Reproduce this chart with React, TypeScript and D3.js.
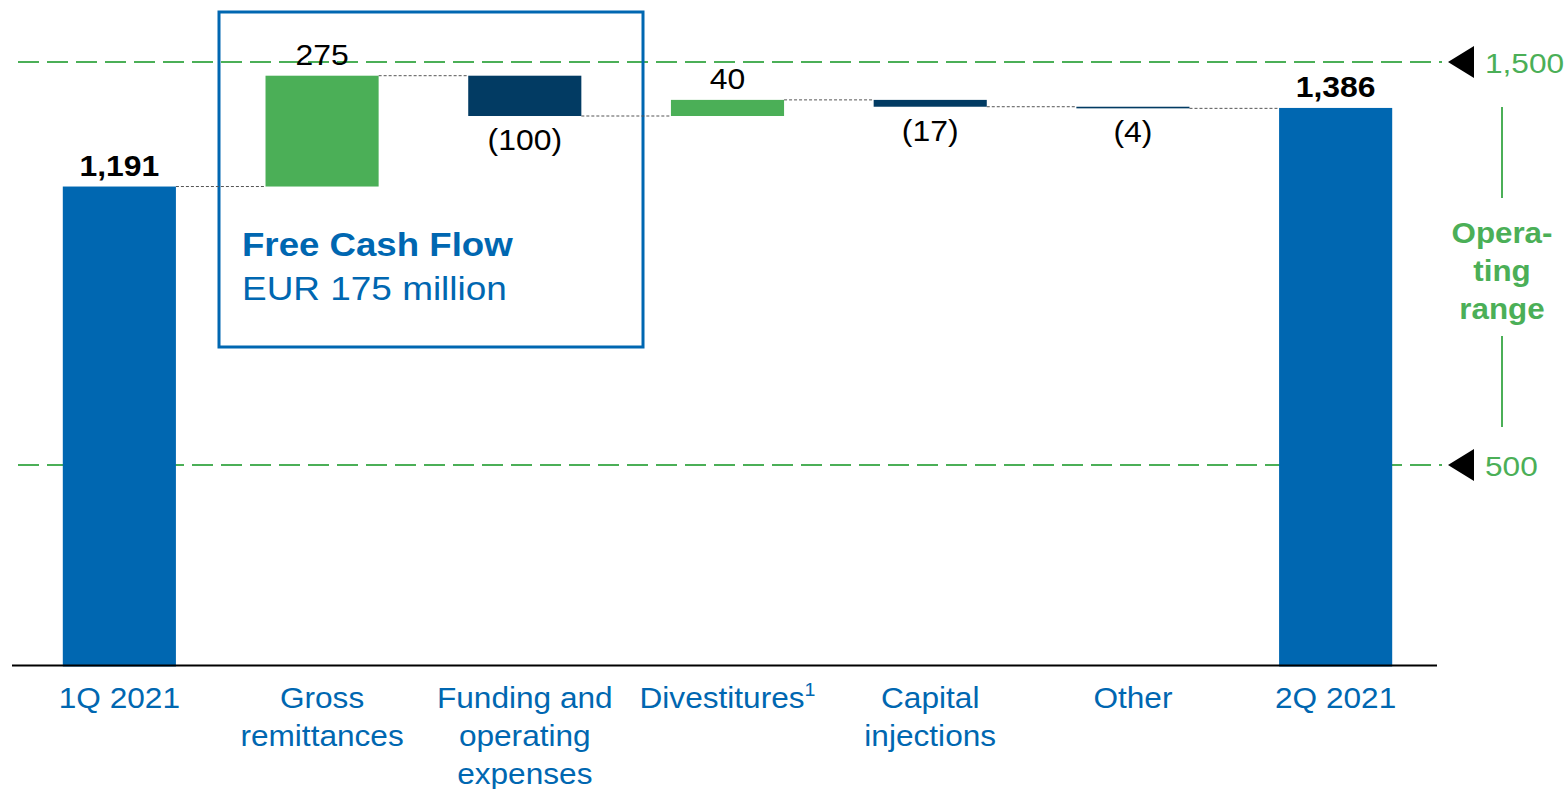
import React from 'react';
import * as d3 from 'd3';

// waterfall steps, EUR million
const categories = ['1Q 2021', 'Gross remittances', 'Funding and operating expenses', 'Divestitures', 'Capital injections', 'Other', '2Q 2021'];
const categoryLines = [['1Q 2021'], ['Gross', 'remittances'], ['Funding and', 'operating', 'expenses'], ['Divestitures'], ['Capital', 'injections'], ['Other'], ['2Q 2021']];
const kinds = ['total', 'delta', 'delta', 'delta', 'delta', 'delta', 'total'];
const values = [1191, 275, -100, 40, -17, -4, 1386];
const valueLabels = ['1,191', '275', '(100)', '40', '(17)', '(4)', '1,386'];
const rangeLines = [1500, 500];
const rangeLabels = ['1,500', '500'];

const BLUE = '#0067b1';
const GREEN = '#4baf57';
const NAVY = '#023b63';
const FONT = '"Liberation Sans", Arial, sans-serif';

const W = 1568, H = 789;

// the source renders Arial a bit wide, so stretch text horizontally
function SText({x, y, sx = 1.1, children, ...rest}) {
    return (
        <text transform={`translate(${x},${y}) scale(${sx},1)`} x={0} y={0} {...rest}>
            {children}
        </text>
    );
}

function App() {
    const x = d3.scaleBand()
        .domain(categories)
        .range([18, 1437])
        .paddingInner(0.442)
        .paddingOuter(0.221);

    const y = d3.scaleLinear()
        .domain([0, 1500])
        .range([666.5, 62]);

    // build the running steps
    let run = 0;
    const steps = values.map((v, i) => {
        let y0, y1;
        if (kinds[i] === 'total') {
            y0 = 0; y1 = v; run = v;
        } else {
            y0 = run; y1 = run + v; run = y1;
        }
        return {cat: categories[i], v, y0, y1, end: kinds[i] === 'total' ? v : y1, i};
    });

    const bw = x.bandwidth();

    return (
        <svg width={W} height={H} viewBox={`0 0 ${W} ${H}`} display="block"
             style={{position: 'absolute', left: 0, top: 0, fontFamily: FONT}}>
            <rect width={W} height={H} fill="#fff" />

            {/* operating range lines */}
            {rangeLines.map((r, i) => (
                <g key={r}>
                    <line x1={18} x2={1442} y1={y(r)} y2={y(r)}
                          stroke={GREEN} strokeWidth={2} strokeDasharray="21,8" />
                    <path d={`M1448,${y(r)} L1474,${y(r) - 16} L1474,${y(r) + 16} Z`} fill="#000" />
                    <SText x={1485} y={y(r) + 11} sx={1.13} fontSize={28} fill={GREEN}>{rangeLabels[i]}</SText>
                </g>
            ))}
            <line x1={1502} x2={1502} y1={107} y2={198} stroke={GREEN} strokeWidth={2} />
            <line x1={1502} x2={1502} y1={336} y2={427} stroke={GREEN} strokeWidth={2} />
            {['Opera-', 'ting', 'range'].map((t, i) => (
                <SText key={t} x={1502} y={243 + i * 38} sx={1.08} textAnchor="middle"
                       fontSize={29} fontWeight="bold" fill={GREEN}>{t}</SText>
            ))}

            {/* Free cash flow box */}
            <rect x={219} y={12} width={424} height={335} fill="none" stroke={BLUE} strokeWidth={3} />
            <SText x={242} y={256} sx={1.11} fontSize={33} fontWeight="bold" fill={BLUE}>Free Cash Flow</SText>
            <SText x={242} y={300} sx={1.12} fontSize={33} fill={BLUE}>EUR 175 million</SText>

            {/* connectors */}
            {steps.slice(0, -1).map((s, i) => (
                <line key={'c' + i}
                      x1={x(s.cat) + bw} x2={x(categories[i + 1])}
                      y1={y(s.end)} y2={y(s.end)}
                      stroke="#555" strokeWidth={1} strokeDasharray="3,2" />
            ))}

            {/* bars */}
            {steps.map(s => {
                const top = y(Math.max(s.y0, s.y1));
                const bot = y(Math.min(s.y0, s.y1));
                const fill = kinds[s.i] === 'total' ? BLUE : (s.v >= 0 ? GREEN : NAVY);
                return (
                    <rect key={s.cat} x={x(s.cat)} y={top} width={bw}
                          height={Math.max(bot - top, 1.5)} fill={fill} />
                );
            })}

            {/* value labels */}
            {steps.map(s => {
                const cx = x(s.cat) + bw / 2;
                const isTotal = kinds[s.i] === 'total';
                const ly = s.v >= 0
                    ? y(Math.max(s.y0, s.y1)) - 11
                    : y(Math.min(s.y0, s.y1)) + 34;
                return (
                    <SText key={'v' + s.cat} x={cx} y={ly} textAnchor="middle" fontSize={29}
                           fontWeight={isTotal ? 'bold' : 'normal'} fill="#000">
                        {valueLabels[s.i]}
                    </SText>
                );
            })}

            {/* baseline */}
            <line x1={12} x2={1437} y1={y(0) - 1} y2={y(0) - 1} stroke="#000" strokeWidth={2} />

            {/* category labels */}
            {categories.map((c, i) => categoryLines[i].map((ln, j) => (
                <SText key={'l' + c + j} x={x(c) + bw / 2} y={708 + j * 38} sx={1.09}
                       textAnchor="middle" fontSize={29} fill={BLUE}>
                    {ln}
                    {c === 'Divestitures' && <tspan fontSize={18} dy={-12}>1</tspan>}
                </SText>
            )))}
        </svg>
    );
}

export default App;
